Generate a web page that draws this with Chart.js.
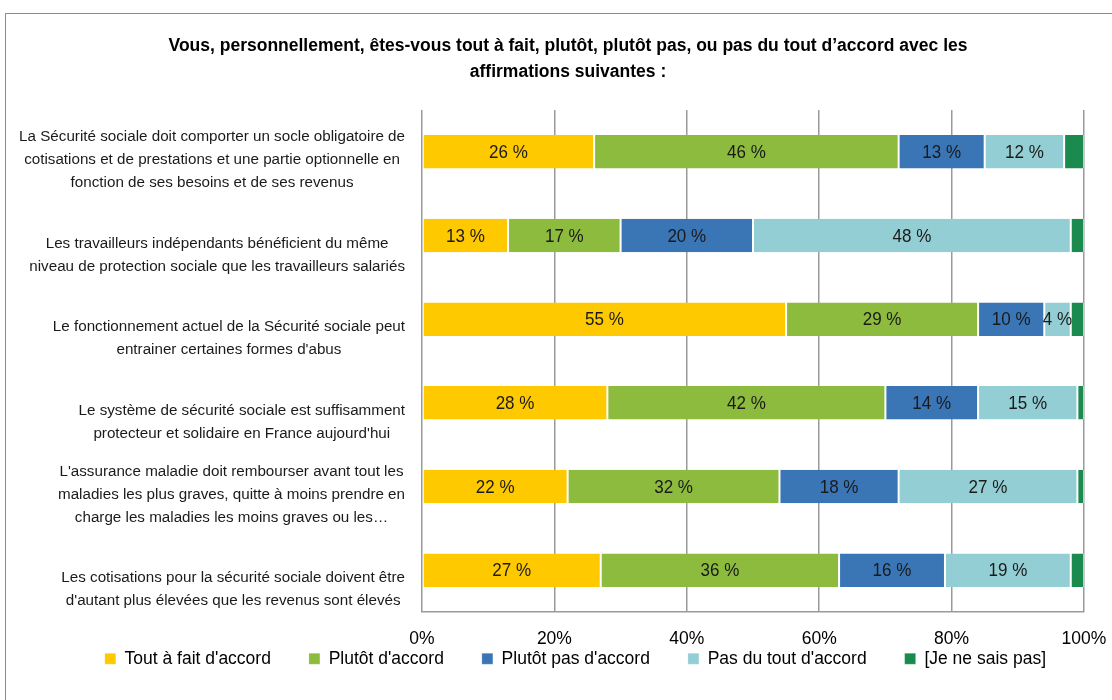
<!DOCTYPE html>
<html>
<head>
<meta charset="utf-8">
<script src="https://cdn.jsdelivr.net/npm/chart.js@4.4.1/dist/chart.umd.min.js"></script>
<style>
  body { margin: 0; background: #fff; overflow: hidden; }
  #frame { position: absolute; left: 5px; top: 13px; width: 1200px; height: 800px; border: 1.5px solid #8a8a8a; }
  #wrap { position: absolute; left: 0; top: 0; width: 1112px; height: 700px; }
</style>
</head>
<body>
<div id="frame"></div>
<div id="wrap"><canvas id="myChart"></canvas></div>
<script>
// data
var title = ["Vous, personnellement, êtes-vous tout à fait, plutôt, plutôt pas, ou pas du tout d’accord avec les", "affirmations suivantes :"];
var categories = [
  ["La Sécurité sociale doit comporter un socle obligatoire de", "cotisations et de prestations et une partie optionnelle en", "fonction de ses besoins et de ses revenus"],
  ["Les travailleurs indépendants bénéficient du même", "niveau de protection sociale que les travailleurs salariés"],
  ["Le fonctionnement actuel de la Sécurité sociale peut", "entrainer certaines formes d'abus"],
  ["Le système de sécurité sociale est suffisamment", "protecteur et solidaire en France aujourd'hui"],
  ["L'assurance maladie doit rembourser avant tout les", "maladies les plus graves, quitte à moins prendre en", "charge les maladies les moins graves ou les…"],
  ["Les cotisations pour la sécurité sociale doivent être", "d'autant plus élevées que les revenus sont élevés"]
];
var seriesNames = ["Tout à fait d'accord", "Plutôt d'accord", "Plutôt pas d'accord", "Pas du tout d'accord", "[Je ne sais pas]"];
var toutAFait = [26, 13, 55, 28, 22, 27];
var plutot    = [46, 17, 29, 42, 32, 36];
var plutotPas = [13, 20, 10, 14, 18, 16];
var pasDuTout = [12, 48, 4, 15, 27, 19];
var neSaisPas = [3, 2, 2, 1, 1, 2];
var xTicks = ["0%", "20%", "40%", "60%", "80%", "100%"];

var colors = ["#ffc900", "#8cbb3e", "#3a76b6", "#93ced4", "#1a8a4e"];
var arial = "'Liberation Sans', Arial, sans-serif";

var allSeries = [toutAFait, plutot, plutotPas, pasDuTout, neSaisPas];
var datasets = allSeries.map(function (vals, i) {
  return {
    label: seriesNames[i],
    data: vals,
    backgroundColor: colors[i],
    borderColor: 'rgba(255,255,255,0.45)',
    borderWidth: { left: 1, right: 1, top: 0, bottom: 0 },
    borderSkipped: false,
    barPercentage: 0.4,
    categoryPercentage: 1
  };
});

// text squeezed horizontally by sx
function squeezed(ctx, txt, x, y, sx) {
  ctx.save();
  ctx.scale(sx, 1);
  ctx.fillText(txt, x / sx, y);
  ctx.restore();
}

// value labels inside the segments
var barLabels = {
  id: 'barLabels',
  afterDatasetsDraw: function (chart) {
    var ctx = chart.ctx;
    ctx.save();
    ctx.font = '18.5px ' + arial;
    ctx.fillStyle = '#1a1a1a';
    ctx.textAlign = 'center';
    ctx.textBaseline = 'middle';
    chart.data.datasets.forEach(function (ds, di) {
      if (di === 4) return;
      chart.getDatasetMeta(di).data.forEach(function (bar, i) {
        var p = bar.getCenterPoint();
        squeezed(ctx, ds.data[i] + ' %', p.x, p.y + 1, 0.92);
      });
    });
    ctx.restore();
  }
};

// title + category labels
var texts = {
  id: 'texts',
  afterDraw: function (chart) {
    var ctx = chart.ctx, y = chart.scales.y;
    ctx.save();
    ctx.fillStyle = '#000';
    ctx.textAlign = 'center';
    ctx.textBaseline = 'middle';
    ctx.font = 'bold 17.5px ' + arial;
    ctx.fillText(title[0], 568, 46);
    ctx.fillText(title[1], 568, 72);

    ctx.font = '15.5px ' + arial;
    ctx.fillStyle = '#1a1a1a';
    categories.forEach(function (lines, i) {
      var w = 0.98 * Math.max.apply(null, lines.map(function (l) { return ctx.measureText(l).width; }));
      var cx = chart.chartArea.left - 17 - w / 2;
      var cy = y.getPixelForValue(i);
      lines.forEach(function (l, k) {
        squeezed(ctx, l, cx, cy + 31 - 23 * (lines.length - 1 - k), 0.98);
      });
    });
    ctx.restore();
  }
};

new Chart('myChart', {
  type: 'bar',
  data: {
    labels: categories.map(function (c, i) { return i; }),
    datasets: datasets
  },
  plugins: [barLabels, texts],
  options: {
    indexAxis: 'y',
    responsive: true,
    maintainAspectRatio: false,
    animation: false,
    layout: { padding: { top: 110, left: 0, right: 28, bottom: 22.5 } },
    plugins: {
      title: { display: false },
      legend: {
        position: 'bottom',
        align: 'end',
        labels: {
          color: '#000',
          boxWidth: 11,
          boxHeight: 11,
          padding: 38,
          font: { family: arial, size: 17.5 }
        }
      },
      tooltip: { enabled: false }
    },
    scales: {
      x: {
        stacked: true,
        min: 0,
        max: 100,
        ticks: {
          stepSize: 20,
          mirror: true,
          padding: -38,
          color: '#000',
          font: { family: arial, size: 17.5 },
          callback: function (v, i) { return xTicks[i]; }
        },
        grid: { display: true, color: '#9a9a9a', lineWidth: 1.5, drawTicks: false },
        border: { display: true, color: '#9a9a9a', width: 1.5 },
        afterFit: function (scale) {
          // tick labels share the strip above the legend
          scale.height = 0;
          scale.paddingLeft = 0;
          scale.paddingRight = 0;
        }
      },
      y: {
        stacked: true,
        ticks: { display: false },
        grid: { display: false },
        border: { display: false },
        afterFit: function (scale) { scale.width = 422; }
      }
    }
  }
});
</script>
</body>
</html>
